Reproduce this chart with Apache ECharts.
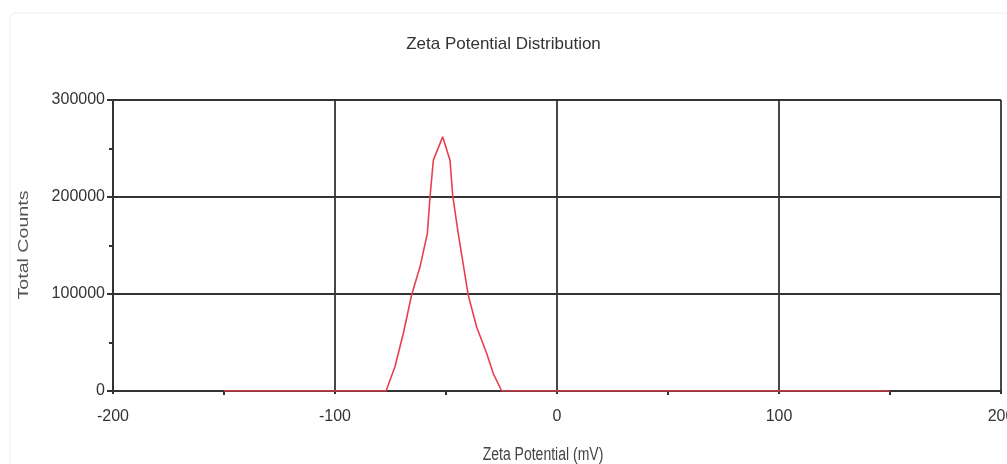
<!DOCTYPE html>
<html>
<head>
<meta charset="utf-8">
<script src="https://cdn.jsdelivr.net/npm/echarts@6/dist/echarts.min.js"></script>
<style>html,body{margin:0;padding:0;background:#fff;}#c{width:1007px;height:464px;}</style>
</head>
<body>
<div id="c"></div>
<script>
var zetaMV = [-150, -77, -73, -69.2, -65.5, -61.7, -58.4, -57.2, -55.7, -51.5, -48.2, -47, -44.5, -40, -36.2, -31.7, -28.7, -24.9, 150];
var totalCounts = [0, 0, 25000, 59500, 99000, 128000, 162500, 200000, 238000, 262000, 238000, 202000, 162500, 99000, 66000, 39000, 18000, 0, 0];
var xTicks = [-200, -100, 0, 100, 200];
var yTicks = [0, 100000, 200000, 300000];
var titleText = 'Zeta Potential Distribution';
var xName = 'Zeta Potential (mV)';
var yName = 'Total Counts';

var points = zetaMV.map(function (x, i) { return [x, totalCounts[i]]; });
var FONT = 'Liberation Sans, Arial, sans-serif';
var chart = echarts.init(document.getElementById('c'));
chart.setOption({
  animation: false,
  backgroundColor: '#fff',
  title: {
    text: titleText, left: 'center', top: 31,
    textStyle: { fontFamily: FONT, fontSize: 17, fontWeight: 'normal', color: '#333' }
  },
  graphic: [
    { type: 'rect', shape: { x: 10, y: 13, width: 1000, height: 460, r: 6 },
      style: { fill: 'none', stroke: '#eeeeee', lineWidth: 1 }, silent: true, z: -1 },
    { type: 'text', x: 543, y: 455, scaleY: 1.25,
      style: { text: xName, font: '14px ' + FONT, fill: '#444', align: 'center', verticalAlign: 'middle' } },
    { type: 'text', x: 24, y: 245, rotation: Math.PI / 2, scaleX: 1.4,
      style: { text: yName, font: '14px ' + FONT, fill: '#555', align: 'center', verticalAlign: 'middle' } }
  ],
  grid: { left: 113, right: 6, top: 100, bottom: 73, containLabel: false, outerBoundsMode: 'none' },
  xAxis: {
    type: 'value', min: xTicks[0], max: xTicks[xTicks.length - 1], interval: 100,
    axisLine: { show: true, onZero: true, lineStyle: { color: '#333', width: 2 } },
    axisTick: { show: true, length: 3, lineStyle: { color: '#333', width: 2 } },
    minorTick: { show: true, splitNumber: 2, length: 4, lineStyle: { color: '#333', width: 2 } },
    splitLine: { show: true, lineStyle: { color: '#333', width: 1.8 } },
    axisLabel: { fontFamily: FONT, fontSize: 16, color: '#333', margin: 18, showMaxLabel: true,
      formatter: function (v) { return String(v); } }
  },
  yAxis: {
    type: 'value', min: yTicks[0], max: yTicks[yTicks.length - 1], interval: 100000,
    axisLine: { show: true, onZero: false, lineStyle: { color: '#333', width: 2 } },
    axisTick: { show: true, length: 6, lineStyle: { color: '#333', width: 2 } },
    minorTick: { show: true, splitNumber: 2, length: 4, lineStyle: { color: '#333', width: 2 } },
    splitLine: { show: true, lineStyle: { color: '#333', width: 1.8 } },
    axisLabel: { fontFamily: FONT, fontSize: 16, color: '#333', margin: 8,
      formatter: function (v) { return String(v); } }
  },
  series: [{
    type: 'line', data: points, showSymbol: false, smooth: false,
    lineStyle: { color: '#e8404f', width: 1.6 }, z: 5
  }]
});
</script>
</body>
</html>
